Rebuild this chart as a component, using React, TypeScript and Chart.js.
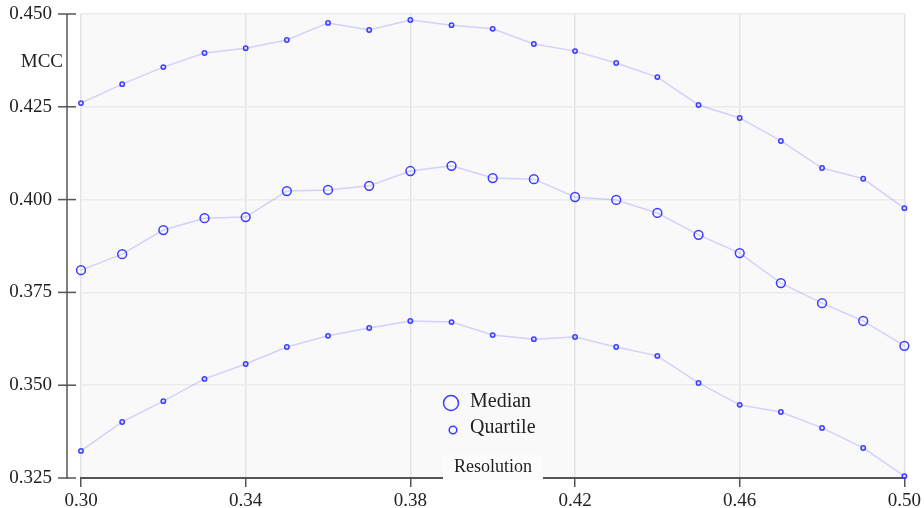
import React, { useEffect, useRef } from "react";
import { Chart, registerables } from "chart.js";

Chart.register(...registerables);

const resolutions = [0.30, 0.31, 0.32, 0.33, 0.34, 0.35, 0.36, 0.37, 0.38, 0.39, 0.40, 0.41, 0.42, 0.43, 0.44, 0.45, 0.46, 0.47, 0.48, 0.49, 0.50];

const medianMCC = [0.3810, 0.3853, 0.3918, 0.3950, 0.3953, 0.4023, 0.4026, 0.4037, 0.4077, 0.4091, 0.4058, 0.4055, 0.4007, 0.3999, 0.3964, 0.3905, 0.3856, 0.3775, 0.3721, 0.3673, 0.3606];

const upperQuartileMCC = [0.4260, 0.4311, 0.4357, 0.4395, 0.4408, 0.4430, 0.4476, 0.4457, 0.4484, 0.4470, 0.4460, 0.4419, 0.4400, 0.4368, 0.4330, 0.4255, 0.4220, 0.4158, 0.4085, 0.4056, 0.3977];

const lowerQuartileMCC = [0.3323, 0.3401, 0.3457, 0.3517, 0.3557, 0.3603, 0.3633, 0.3654, 0.3673, 0.3670, 0.3635, 0.3624, 0.3630, 0.3603, 0.3579, 0.3506, 0.3447, 0.3428, 0.3385, 0.3331, 0.3255];

const yTickValues = [0.325, 0.35, 0.375, 0.4, 0.425, 0.45];
const xTickLabels = ["0.30", "0.34", "0.38", "0.42", "0.46", "0.50"];
const yTitle = "MCC";
const xTitle = "Resolution";
const legendLabels = ["Median", "Quartile"];

const FONT = "'Liberation Serif', 'Times New Roman', serif";
const POINT_COLOR = "#3c3cff";
const LINE_COLOR = "rgba(120,120,255,0.30)";
const AXIS_COLOR = "#555555";

const decorPlugin = {
  id: "decor",
  beforeDraw(chart: any) {
    const { ctx, chartArea } = chart;
    ctx.save();
    ctx.fillStyle = "#f9f9f9";
    ctx.fillRect(chartArea.left, chartArea.top, chartArea.right - chartArea.left, chartArea.bottom - chartArea.top);
    ctx.restore();
  },
  afterDraw(chart: any) {
    const { ctx, chartArea } = chart;
    const yScale = chart.scales.y;
    ctx.save();
    // offset y axis
    const axX = chartArea.left - 14;
    ctx.strokeStyle = AXIS_COLOR;
    ctx.lineWidth = 1.5;
    ctx.beginPath();
    ctx.moveTo(axX, chartArea.top);
    ctx.lineTo(axX, chartArea.bottom + 1);
    ctx.stroke();
    yTickValues.forEach((v) => {
      const py = yScale.getPixelForValue(v);
      ctx.beginPath();
      ctx.moveTo(axX - 9, py);
      ctx.lineTo(axX + 9, py);
      ctx.stroke();
    });
    // y title
    ctx.fillStyle = "#222";
    ctx.font = `19px ${FONT}`;
    ctx.textAlign = "right";
    ctx.textBaseline = "middle";
    ctx.fillText(yTitle, chartArea.left - 18, chartArea.top + 48);

    // x title box
    const cx = chartArea.left + 412;
    ctx.fillStyle = "#fcfcfc";
    ctx.fillRect(cx - 50, chartArea.bottom - 23, 100, 25);
    ctx.fillStyle = "#222";
    ctx.font = `18px ${FONT}`;
    ctx.textAlign = "center";
    ctx.fillText(xTitle, cx, chartArea.bottom - 11);

    // legend
    const lx = chartArea.left + 370;
    ctx.strokeStyle = POINT_COLOR;
    ctx.lineWidth = 1.5;
    ctx.beginPath();
    ctx.arc(lx, chartArea.top + 389, 7.5, 0, Math.PI * 2);
    ctx.stroke();
    ctx.beginPath();
    ctx.arc(lx + 2, chartArea.top + 416, 3.8, 0, Math.PI * 2);
    ctx.stroke();
    ctx.fillStyle = "#222";
    ctx.font = `20px ${FONT}`;
    ctx.textAlign = "left";
    ctx.fillText(legendLabels[0], lx + 19, chartArea.top + 388);
    ctx.fillText(legendLabels[1], lx + 19, chartArea.top + 414);
    ctx.restore();
  },
};

function toPoints(vals: number[]) {
  return vals.map((v, i) => ({ x: resolutions[i], y: v }));
}

export default function App() {
  const ref = useRef<HTMLCanvasElement>(null);
  useEffect(() => {
    if (!ref.current) return;
    const quartileStyle = {
      borderColor: LINE_COLOR,
      borderWidth: 1.5,
      pointBorderColor: POINT_COLOR,
      pointBackgroundColor: "rgba(255,255,255,0)",
      pointRadius: 2.2,
      pointBorderWidth: 1.5,
      tension: 0,
    };
    const chart = new Chart(ref.current, {
      type: "line",
      data: {
        datasets: [
          { label: "Upper quartile", data: toPoints(upperQuartileMCC), ...quartileStyle },
          {
            label: "Median",
            data: toPoints(medianMCC),
            borderColor: LINE_COLOR,
            borderWidth: 1.5,
            pointBorderColor: POINT_COLOR,
            pointBackgroundColor: "rgba(255,255,255,0)",
            pointRadius: 4.4,
            pointBorderWidth: 1.5,
            tension: 0,
          },
          { label: "Lower quartile", data: toPoints(lowerQuartileMCC), ...quartileStyle },
        ],
      },
      options: {
        animation: false,
        responsive: false,
        clip: false as any,
        layout: { padding: { top: 14, right: 19, bottom: 0, left: 0 } },
        plugins: { legend: { display: false }, tooltip: { enabled: false } },
        scales: {
          x: {
            type: "linear",
            min: 0.3,
            max: 0.5,
            afterFit: (s: any) => { s.height = 30; },
            afterBuildTicks: (s: any) => {
              s.ticks = xTickLabels.map((t) => ({ value: parseFloat(t) }));
            },
            ticks: {
              callback: (v: any) => Number(v).toFixed(2),
              font: { family: FONT, size: 19 },
              color: "#222",
              padding: 3,
              maxRotation: 0,
              autoSkip: false,
            },
            grid: { color: "#e4e4e4", lineWidth: 1.5, tickColor: AXIS_COLOR, tickLength: 9, tickWidth: 1.5 },
            border: { display: true, color: AXIS_COLOR, width: 2 },
          },
          y: {
            type: "linear",
            min: 0.325,
            max: 0.45,
            afterFit: (s: any) => { s.width = 81; },
            afterBuildTicks: (s: any) => {
              s.ticks = yTickValues.map((v) => ({ value: v }));
            },
            ticks: {
              callback: (v: any) => Number(v).toFixed(3),
              font: { family: FONT, size: 19 },
              color: "#222",
              padding: 0,
              autoSkip: false,
            },
            grid: { color: "#ebebeb", lineWidth: 1.5, drawTicks: true, tickLength: 29, tickColor: "rgba(0,0,0,0)" },
            border: { display: false },
          },
        },
      },
      plugins: [decorPlugin],
    });
    return () => chart.destroy();
  }, []);
  return (
    <div style={{ position: "fixed", left: 0, top: 0, width: 924, height: 508, background: "#fff" }}>
      <canvas ref={ref} width={924} height={508} style={{ width: 924, height: 508 }} />
    </div>
  );
}
